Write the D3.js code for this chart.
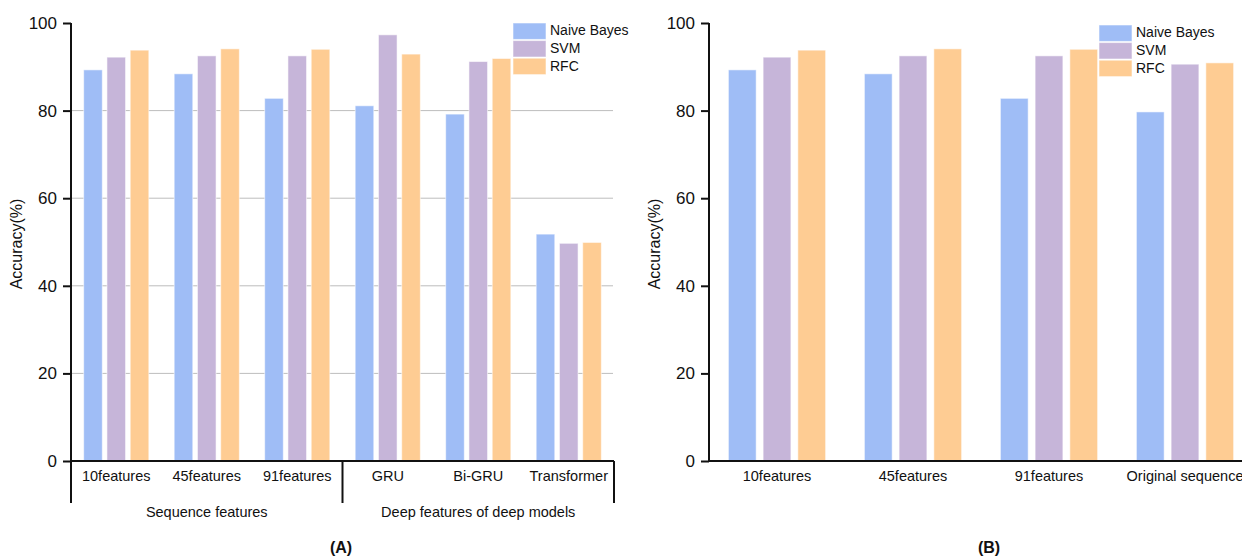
<!DOCTYPE html>
<html>
<head>
<meta charset="utf-8">
<script src="https://cdn.jsdelivr.net/npm/d3@7"></script>
<style>
  html, body { margin: 0; padding: 0; background: #fff; }
  svg { display: block; font-family: "Liberation Sans", Arial, sans-serif; }
</style>
</head>
<body>
<svg id="chart" width="1242" height="557"></svg>
<script>
// Classifier accuracy (%) on different feature sets
const seriesNames = ["Naive Bayes", "SVM", "RFC"];
const seriesColors = ["#9fbdf6", "#c6b5d9", "#fecc93"];

// Panel A: sequence features and deep-model features
const categoriesA = ["10features", "45features", "91features", "GRU", "Bi-GRU", "Transformer"];
const naiveBayesA = [89.3, 88.4, 82.8, 81.1, 79.2, 51.8];
const svmA        = [92.2, 92.5, 92.5, 97.3, 91.2, 49.7];
const rfcA        = [93.8, 94.1, 94.0, 92.9, 91.9, 49.9];
const groupsA = [
  { label: "Sequence features", from: 0, to: 2 },
  { label: "Deep features of deep models", from: 3, to: 5 }
];

// Panel B: sequence features vs. original sequence
const categoriesB = ["10features", "45features", "91features", "Original sequence"];
const naiveBayesB = [89.3, 88.4, 82.8, 79.7];
const svmB        = [92.2, 92.5, 92.5, 90.6];
const rfcB        = [93.8, 94.1, 94.0, 90.9];

const yTicks = [0, 20, 40, 60, 80, 100];

const svg = d3.select("#chart");

function drawPanel(opt) {
  const g = svg.append("g");
  const y = d3.scaleLinear().domain([0, 100]).range([461, 23]);
  const x0 = d3.scaleBand().domain(opt.categories).range([opt.left, opt.right])
    .paddingInner(opt.pad).paddingOuter(opt.pad / 2);
  const x1 = d3.scaleBand().domain(seriesNames).range([0, x0.bandwidth()]).paddingInner(0.2);
  const color = d3.scaleOrdinal().domain(seriesNames).range(seriesColors);

  // horizontal gridlines
  if (opt.grid) {
    g.append("g").selectAll("line")
      .data(yTicks.filter(t => t > 0 && t < 100))
      .join("line")
      .attr("x1", opt.left).attr("x2", opt.gridEnd)
      .attr("y1", d => y(d)).attr("y2", d => y(d))
      .attr("stroke", "#bdbdbd").attr("stroke-width", 1);
  }

  // bars
  const rows = opt.categories.map((c, i) => ({
    cat: c,
    vals: seriesNames.map((s, j) => ({ s, v: opt.values[j][i] }))
  }));
  g.append("g").selectAll("g")
    .data(rows)
    .join("g")
    .attr("transform", d => `translate(${x0(d.cat)},0)`)
    .selectAll("rect")
    .data(d => d.vals)
    .join("rect")
    .attr("x", d => x1(d.s))
    .attr("width", x1.bandwidth())
    .attr("y", d => y(d.v))
    .attr("height", d => y(0) - y(d.v))
    .attr("fill", d => color(d.s))
    .attr("stroke", "#ffffff").attr("stroke-opacity", 0.55).attr("stroke-width", 1);

  // y axis
  const yAxis = g.append("g")
    .attr("transform", `translate(${opt.left},0)`)
    .call(d3.axisLeft(y).tickValues(yTicks).tickSize(8).tickPadding(6).tickFormat(d3.format("d")));
  yAxis.select(".domain").attr("d", `M0,${y(100)}V${y(0)}`).attr("stroke", "#111").attr("stroke-width", 2);
  yAxis.selectAll(".tick line").attr("stroke", "#111").attr("stroke-width", 2);
  yAxis.selectAll(".tick text").attr("font-size", 17).attr("fill", "#111")
    .attr("font-family", "Liberation Sans, Arial, sans-serif");

  // x axis
  const xAxis = g.append("g")
    .attr("transform", `translate(0,${y(0)})`)
    .call(d3.axisBottom(x0).tickSize(0).tickPadding(10));
  xAxis.select(".domain").attr("stroke", "#111").attr("stroke-width", 2)
    .attr("d", `M${opt.left - 1},0H${opt.right}`);
  xAxis.selectAll(".tick text").attr("font-size", 14.5).attr("fill", "#111")
    .attr("font-family", "Liberation Sans, Arial, sans-serif");

  // group brackets under the category labels
  if (opt.groups) {
    const edges = [opt.left];
    opt.groups.forEach(gr => edges.push(x0(opt.categories[gr.to]) + x0.step() - x0.step() * x0.paddingInner() / 2));
    edges[edges.length - 1] = opt.right;
    g.append("g").selectAll("line")
      .data(edges)
      .join("line")
      .attr("x1", d => d).attr("x2", d => d)
      .attr("y1", y(0)).attr("y2", 503)
      .attr("stroke", "#111").attr("stroke-width", 2);
    g.append("g").selectAll("text")
      .data(opt.groups)
      .join("text")
      .attr("x", (d, i) => (edges[i] + edges[i + 1]) / 2)
      .attr("y", 517)
      .attr("text-anchor", "middle")
      .attr("font-size", 14.5).attr("fill", "#111")
      .text(d => d.label);
  }

  // y axis title
  g.append("text")
    .attr("transform", `translate(${opt.left - 53},${(y(0) + y(100)) / 2 + 2}) rotate(-90)`)
    .attr("text-anchor", "middle")
    .attr("dominant-baseline", "middle")
    .attr("font-size", 16).attr("fill", "#111")
    .text("Accuracy(%)");

  // legend
  const lg = g.append("g").attr("transform", `translate(${opt.legendX},${opt.legendY})`);
  seriesNames.forEach((s, i) => {
    lg.append("rect")
      .attr("x", 0).attr("y", i * 17.6)
      .attr("width", 33).attr("height", 16.4)
      .attr("fill", color(s))
      .attr("stroke", "#ffffff").attr("stroke-opacity", 0.55);
    lg.append("text")
      .attr("x", 37).attr("y", i * 17.6 + 8.6)
      .attr("dominant-baseline", "middle")
      .attr("font-size", 14).attr("fill", "#111")
      .text(s);
  });

  // panel caption
  g.append("text")
    .attr("x", opt.captionX).attr("y", 553)
    .attr("text-anchor", "middle")
    .attr("font-size", 16).attr("font-weight", "bold").attr("fill", "#111")
    .text(opt.caption);
}

drawPanel({
  categories: categoriesA,
  values: [naiveBayesA, svmA, rfcA],
  left: 71, right: 614, pad: 0.28,
  grid: true, gridEnd: 613,
  groups: groupsA,
  legendX: 513, legendY: 23,
  caption: "(A)", captionX: 341
});

drawPanel({
  categories: categoriesB,
  values: [naiveBayesB, svmB, rfcB],
  left: 709, right: 1253, pad: 0.285,
  grid: false,
  legendX: 1099, legendY: 25,
  caption: "(B)", captionX: 989
});
</script>
</body>
</html>
